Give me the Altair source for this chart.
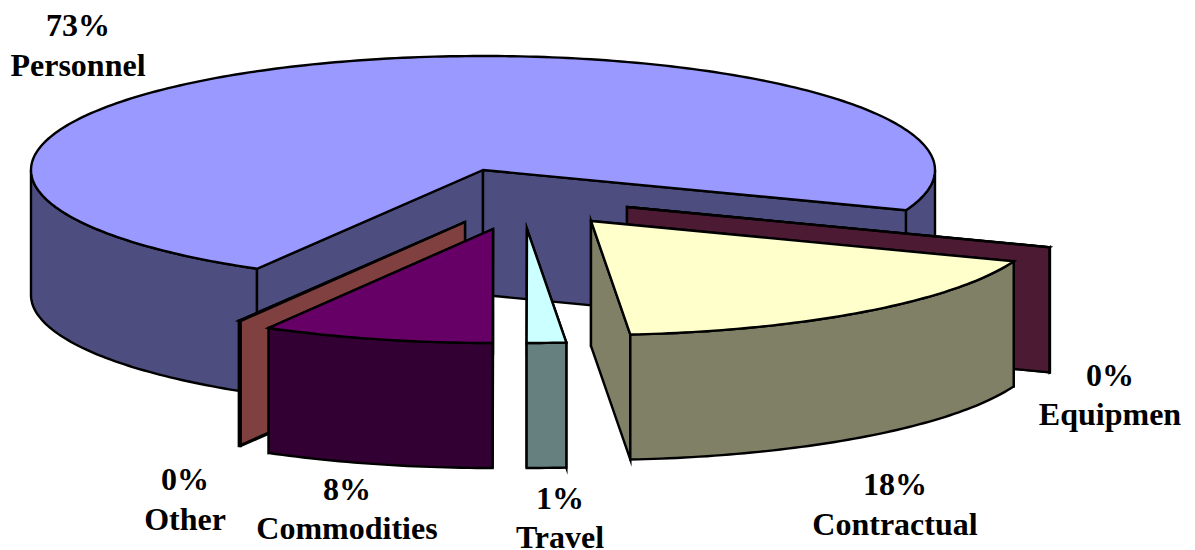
import math
import altair as alt

# Budget shares (percent), in clockwise drawing order
categories = ["Personnel", "Equipmen", "Contractual", "Travel", "Commodities", "Other"]
shares = [72.41, 0.02, 17.85, 1.4, 8.25, 0.07]
percent_labels = ["73%", "0%", "18%", "1%", "8%", "0%"]
top_colors = ["#9999ff", "#993366", "#ffffcc", "#ccffff", "#660066", "#ff8080"]
side_colors = ["#4d4d80", "#4d1a33", "#808066", "#668080", "#330033", "#804040"]

# Pie geometry (page pixels)
RX, RY, DEPTH = 452, 114, 125
START = 120.0
apex = {
    "Personnel": (483, 170),
    "Equipmen": (627, 207),
    "Contractual": (591, 221),
    "Travel": (527, 229),
    "Commodities": (493, 229),
    "Other": (465, 222),
}
label_pos = {
    "Personnel": (78, 36, 76),
    "Equipmen": (1110, 386, 425),
    "Contractual": (895, 495, 535),
    "Travel": (560, 509, 548),
    "Commodities": (347, 500, 539),
    "Other": (185, 490, 530),
}
paint_order = ["Personnel", "Equipmen", "Other", "Commodities", "Travel", "Contractual"]


def rim(c, t):
    r = math.radians(t)
    return (c[0] + RX * math.cos(r), c[1] + RY * math.sin(r))


def arc(c, t0, t1):
    n = max(2, int(abs(t1 - t0) / 1.0) + 2)
    return [rim(c, t0 + (t1 - t0) * i / (n - 1)) for i in range(n)]


def down(points):
    return [(x, y + DEPTH) for x, y in points]


def feature(points, fill):
    ring = [list(p) for p in points] + [list(points[0])]
    return {
        "type": "Feature",
        "geometry": {"type": "Polygon", "coordinates": [ring]},
        "properties": {"fill": fill},
    }


spans = {}
t = START
for name, share in zip(categories, shares):
    spans[name] = (t, t + share * 3.6)
    t += share * 3.6

features = []
for name in paint_order:
    i = categories.index(name)
    c, (t0, t1) = apex[name], spans[name]
    top, side = top_colors[i], side_colors[i]
    walls = []
    # outer rim wall: the front half only (0..180 deg, modulo a full turn)
    for k in (0, 360):
        a, b = max(t0, k), min(t1, k + 180)
        if b > a:
            pts = arc(c, a, b)
            walls.append(feature(pts + down(pts)[::-1], side))
    radial = []
    for tt in (t0, t1):
        e = rim(c, tt)
        radial.append(feature([c, e, (e[0], e[1] + DEPTH), (c[0], c[1] + DEPTH)], side))
    if name == "Personnel":
        features += walls + radial
    else:
        features += radial + walls
    features.append(feature([c] + arc(c, t0, t1), top))

label_rows = []
for name, pct in zip(categories, percent_labels):
    x, y1, y2 = label_pos[name]
    label_rows.append({"x": x, "y": y1, "t": pct})
    label_rows.append({"x": x, "y": y2, "t": name})

proj = alt.Projection(type="identity", scale=1, translate=[-8, -8])

shapes = (
    alt.Chart(alt.Data(values=features))
    .mark_geoshape(stroke="black", strokeWidth=2.4, strokeJoin="miter", strokeMiterLimit=10)
    .encode(fill=alt.Fill("properties.fill:N", scale=None, legend=None))
    .project(**proj.to_dict())
)

labels = (
    alt.Chart(alt.Data(values=label_rows))
    .mark_text(
        font="Liberation Serif", fontWeight="bold", fontSize=32,
        color="black", align="center", baseline="alphabetic",
    )
    .encode(longitude="x:Q", latitude="y:Q", text="t:N")
    .project(**proj.to_dict())
)

chart = (
    alt.layer(shapes, labels)
    .properties(width=1179, height=542, padding=0, autosize=alt.AutoSizeParams(type="none"))
    .configure_view(stroke=None)
)
chart.save("out.html", embed_options={"renderer": "svg", "actions": False})
